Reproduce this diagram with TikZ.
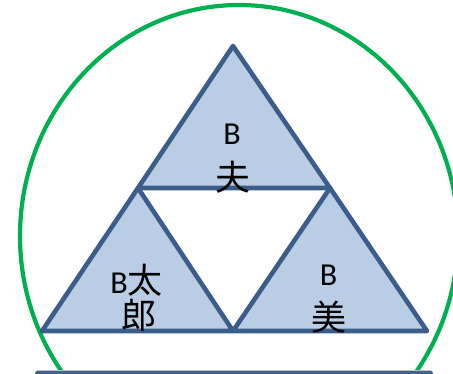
\documentclass[tikz,border=0pt]{standalone}
\usepackage{fontspec}
\setmainfont{Carlito}
\newfontfamily\cjk{Noto Sans CJK JP}
\definecolor{ringgreen}{HTML}{00B050}
\definecolor{triline}{HTML}{3A5D8A}
\definecolor{trifill}{HTML}{B9CDE5}
\definecolor{barblue}{HTML}{3F6391}
\begin{document}
\begin{tikzpicture}[x=1pt,y=-1pt,
  ring/.style={draw=ringgreen, line width=4.2pt},
  tri/.style={draw=triline, fill=trifill, line width=4.6pt, line join=round},
  lat/.style={font=\fontsize{32}{32}\selectfont, inner sep=0pt},
  kan/.style={font=\fontsize{35}{35}\selectfont\cjk, inner sep=0pt},
  mix/.style={font=\fontsize{32}{32}\selectfont, inner sep=0pt}]
\useasboundingbox (0,0) rectangle (453,374);
\begin{scope}
  \clip (0,0) rectangle (453,374);
  \draw[ring] (239,236) ellipse [x radius=219, y radius=231];
  \fill[barblue, rounded corners=3pt] (35,370.5) rectangle (433,392);
  \draw[gray!50, line width=0.8pt] (37,370.8) -- (431,370.8);
\end{scope}
\coordinate (apex) at (233,46);
\coordinate (ml) at (138,188);
\coordinate (mr) at (330,188);
\coordinate (bl) at (42,331);
\coordinate (bm) at (233,331);
\coordinate (br) at (427,331);
\draw[tri] (apex) -- (ml) -- (mr) -- cycle;
\draw[tri] (ml) -- (bl) -- (bm) -- cycle;
\draw[tri] (mr) -- (bm) -- (br) -- cycle;
\node[lat] (tB) at (232,134) {B};
\node[kan] (tK) at (233,177) {夫};
\node[mix] (lB) at (136.5,280) {B{\fontsize{35}{35}\selectfont\cjk 太}};
\node[kan] (lK) at (138.5,315) {郎};
\node[lat] (rB) at (328.5,275) {B};
\node[kan] (rK) at (329,317) {美};
\end{tikzpicture}
\end{document}
